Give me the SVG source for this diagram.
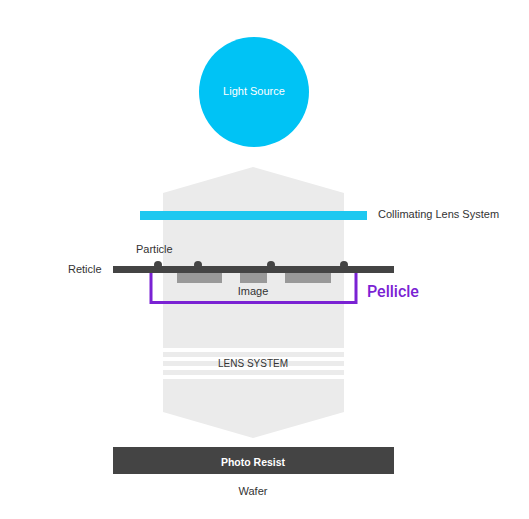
<svg xmlns="http://www.w3.org/2000/svg" width="529" height="519" viewBox="0 0 529 519">
<style>
.t{font-family:"Liberation Sans",Arial,sans-serif;font-size:11px;fill:#333}
.c{text-anchor:middle}
.body{fill:#ebebeb}
</style>
<rect width="529" height="519" fill="#fff"/>
<g id="body">
<polygon class="body" points="163,193 253,167 344,193 344,348 163,348"/>
<rect class="body" x="163" y="352" width="181" height="5"/>
<rect class="body" x="163" y="361" width="181" height="5"/>
<rect class="body" x="163" y="370" width="181" height="5"/>
<polygon class="body" points="163,379 344,379 344,412 253,438 163,412"/>
<text class="t c" x="253" y="367" style="font-size:10px">LENS SYSTEM</text>
</g>
<g id="light-source">
<circle cx="254" cy="92" r="55" fill="#00c3f5"/>
<text class="t c" x="254" y="95" style="fill:#fff">Light Source</text>
</g>
<g id="collimating-lens">
<rect x="140" y="211" width="227" height="9" fill="#1ec8f0"/>
<text class="t" x="378" y="218">Collimating Lens System</text>
</g>
<g id="image">
<rect x="177" y="272" width="45" height="11" fill="#999"/>
<rect x="240" y="272" width="27" height="11" fill="#999"/>
<rect x="285" y="272" width="46" height="11" fill="#999"/>
<text class="t c" x="253" y="295">Image</text>
</g>
<g id="pellicle">
<polyline points="151,272 151,302.5 356,302.5 356,272" fill="none" stroke="#7a22d3" stroke-width="3"/>
<text x="367" y="297" style="font-family:Roboto,'Liberation Sans',sans-serif;font-size:16px;font-weight:500;fill:#7a22d3">Pellicle</text>
</g>
<g id="reticle">
<rect x="113" y="266" width="281" height="7" fill="#444"/>
<text class="t" x="68" y="273">Reticle</text>
</g>
<g id="particles">
<circle cx="158" cy="265" r="4" fill="#444"/>
<circle cx="198" cy="265" r="4" fill="#444"/>
<circle cx="271" cy="265" r="4" fill="#444"/>
<circle cx="344" cy="265" r="4" fill="#444"/>
<text class="t" x="136" y="253">Particle</text>
</g>
<g id="photo-resist">
<rect x="113" y="447" width="281" height="27" fill="#444"/>
<text class="t c" x="253" y="466" style="fill:#fff;font-weight:bold;font-size:10.5px">Photo Resist</text>
</g>
<g id="wafer">
<text class="t c" x="253" y="495">Wafer</text>
</g>
<g id="connectors"></g>
</svg>
